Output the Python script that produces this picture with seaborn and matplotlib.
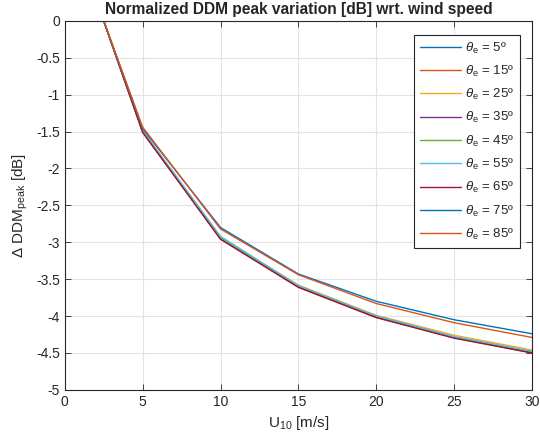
import pandas as pd
import matplotlib
matplotlib.use('Agg')
import matplotlib.pyplot as plt
import seaborn as sns

sns.set_theme(style="whitegrid")
plt.rcParams['font.family'] = ['Liberation Sans', 'DejaVu Sans']
plt.rcParams['mathtext.fontset'] = 'custom'
plt.rcParams['mathtext.rm'] = 'Liberation Sans'
plt.rcParams['mathtext.it'] = 'Liberation Sans:italic'

# wind speed [m/s]
u10 = [2.5, 5, 10, 15, 20, 25, 30]

# normalized DDM peak variation [dB] per elevation angle
theta_labels = ['5', '15', '25', '35', '45', '55', '65', '75', '85']
dB_5 = [0, -1.50, -2.95, -3.60, -4.01, -4.29, -4.49]
dB_15 = [0, -1.51, -2.95, -3.61, -4.02, -4.29, -4.50]
dB_25 = [0, -1.49, -2.93, -3.58, -3.99, -4.26, -4.46]
dB_35 = [0, -1.50, -2.95, -3.60, -4.01, -4.29, -4.49]
dB_45 = [0, -1.50, -2.94, -3.59, -4.00, -4.28, -4.48]
dB_55 = [0, -1.49, -2.92, -3.59, -4.00, -4.28, -4.48]
dB_65 = [0, -1.51, -2.96, -3.61, -4.02, -4.30, -4.50]
dB_75 = [0, -1.46, -2.80, -3.43, -3.80, -4.05, -4.24]
dB_85 = [0, -1.44, -2.82, -3.44, -3.83, -4.09, -4.29]
series = [dB_5, dB_15, dB_25, dB_35, dB_45, dB_55, dB_65, dB_75, dB_85]

# MATLAB default colour order
colors = ['#0072BD', '#D95319', '#EDB120', '#7E2F8E', '#77AC30',
          '#4DBEEE', '#A2142F', '#0072BD', '#D95319']

rows = []
for lab, vals in zip(theta_labels, series):
    name = r'$\theta_{\mathrm{e}}$ = ' + lab + 'º'
    for u, v in zip(u10, vals):
        rows.append({'U10': u, 'dB': v, 'theta': name})
df = pd.DataFrame(rows)

fig = plt.figure(figsize=(5.4, 4.44), dpi=100)
ax = fig.add_axes([0.12, 0.122, 0.865, 0.831])
sns.lineplot(data=df, x='U10', y='dB', hue='theta', palette=colors,
             linewidth=1.0, ax=ax, sort=False)

ax.set_xlim(0, 30)
ax.set_ylim(-5, 0)
ax.set_xticks(range(0, 31, 5))
ax.set_yticks([-5, -4.5, -4, -3.5, -3, -2.5, -2, -1.5, -1, -0.5, 0])
ax.set_yticklabels(['-5', '-4.5', '-4', '-3.5', '-3', '-2.5', '-2', '-1.5', '-1', '-0.5', '0'])
ax.grid(True, color='#e3e3e3', linewidth=0.8)
for s in ax.spines.values():
    s.set_color('#262626')
    s.set_linewidth(0.8)
ax.tick_params(direction='in', length=4, width=0.6, colors='#262626',
               labelsize=10, top=True, right=True, bottom=True, left=True)
ax.tick_params(axis='both', labelcolor='#262626')

ax.set_title('Normalized DDM peak variation [dB] wrt. wind speed',
             fontsize=11.2, fontweight='bold', pad=5)
ax.set_xlabel(r'U$_{10}$ [m/s]', fontsize=11, color='#262626')
ax.set_ylabel(r'$\Delta$ DDM$_{\mathrm{peak}}$ [dB]', fontsize=11, color='#262626')

leg = ax.legend(loc='upper right', bbox_to_anchor=(0.98, 0.97), fontsize=9.5,
                handlelength=3.1, handletextpad=0.3, labelspacing=0.62,
                fancybox=False, framealpha=1, edgecolor='#262626',
                borderpad=0.45, borderaxespad=0.2)
leg.get_frame().set_linewidth(0.8)

fig.savefig('out.png', dpi=100)
